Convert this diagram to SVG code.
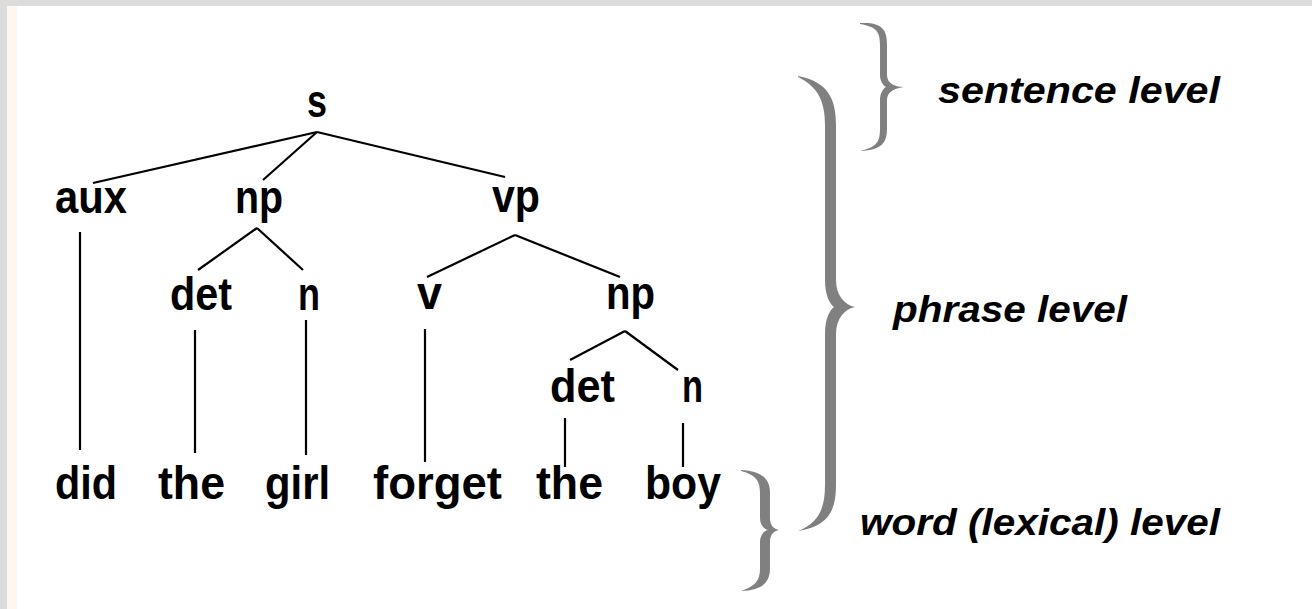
<svg xmlns="http://www.w3.org/2000/svg" width="1312" height="609" viewBox="0 0 1312 609">
<style>
.node{font-family:"Liberation Sans",Arial,sans-serif;font-weight:bold;font-size:47px;fill:#000}
.lvl{font-family:"Liberation Sans",Arial,sans-serif;font-weight:bold;font-style:italic;font-size:37px;fill:#000}
.edge{stroke:#000;stroke-width:2.2;fill:none;stroke-linecap:butt}
.brace{fill:#808080}
</style>
<rect x="0" y="0" width="1312" height="609" fill="#ffffff"/>
<rect x="7" y="6" width="10" height="603" fill="#fff5f1"/>
<rect x="0" y="0" width="1312" height="6" fill="#dcdcdc"/>
<rect x="0" y="0" width="7" height="609" fill="#dcdcdc"/>

<g id="connectors">
<line class="edge" x1="317" y1="132" x2="93" y2="183"/>
<line class="edge" x1="317" y1="132" x2="263" y2="180"/>
<line class="edge" x1="317" y1="132" x2="505" y2="177"/>
<line class="edge" x1="257" y1="228" x2="198" y2="270"/>
<line class="edge" x1="257" y1="228" x2="303" y2="270"/>
<line class="edge" x1="515" y1="235" x2="427" y2="277"/>
<line class="edge" x1="515" y1="235" x2="620" y2="277"/>
<line class="edge" x1="625" y1="331" x2="570" y2="360"/>
<line class="edge" x1="625" y1="331" x2="678" y2="370"/>
<line class="edge" x1="80" y1="232" x2="80" y2="450"/>
<line class="edge" x1="195" y1="330" x2="195" y2="453"/>
<line class="edge" x1="306" y1="320" x2="306" y2="455"/>
<line class="edge" x1="425" y1="329" x2="425" y2="462"/>
<line class="edge" x1="565" y1="418" x2="565" y2="467"/>
<line class="edge" x1="683" y1="423" x2="683" y2="467"/>
</g>

<g id="node-s"><text class="node" x="307" y="117" textLength="20" lengthAdjust="spacingAndGlyphs">s</text></g>
<g id="node-aux"><text class="node" x="55" y="213" textLength="72" lengthAdjust="spacingAndGlyphs">aux</text></g>
<g id="node-np1"><text class="node" x="235" y="213" textLength="48" lengthAdjust="spacingAndGlyphs">np</text></g>
<g id="node-vp"><text class="node" x="492" y="212" textLength="48" lengthAdjust="spacingAndGlyphs">vp</text></g>
<g id="node-det1"><text class="node" x="170" y="310" textLength="62" lengthAdjust="spacingAndGlyphs">det</text></g>
<g id="node-n1"><text class="node" x="298" y="310" textLength="22" lengthAdjust="spacingAndGlyphs">n</text></g>
<g id="node-v"><text class="node" x="417" y="309" textLength="25" lengthAdjust="spacingAndGlyphs">v</text></g>
<g id="node-np2"><text class="node" x="606" y="309" textLength="49" lengthAdjust="spacingAndGlyphs">np</text></g>
<g id="node-det2"><text class="node" x="550" y="402" textLength="65" lengthAdjust="spacingAndGlyphs">det</text></g>
<g id="node-n2"><text class="node" x="682" y="402" textLength="21" lengthAdjust="spacingAndGlyphs">n</text></g>
<g id="word-did"><text class="node" x="55" y="499" textLength="62" lengthAdjust="spacingAndGlyphs">did</text></g>
<g id="word-the1"><text class="node" x="158" y="499" textLength="67" lengthAdjust="spacingAndGlyphs">the</text></g>
<g id="word-girl"><text class="node" x="265" y="499" textLength="65" lengthAdjust="spacingAndGlyphs">girl</text></g>
<g id="word-forget"><text class="node" x="373" y="499" textLength="129" lengthAdjust="spacingAndGlyphs">forget</text></g>
<g id="word-the2"><text class="node" x="536" y="499" textLength="67" lengthAdjust="spacingAndGlyphs">the</text></g>
<g id="word-boy"><text class="node" x="645" y="499" textLength="76" lengthAdjust="spacingAndGlyphs">boy</text></g>

<g id="brace-sentence">
<path class="brace" d="M860,23 C883,22 887,30 887,45 L887,75 C887,84 896,87 904,87 C896,88 887,91 887,100 L887,128 C887,142 883,150 860,151 C877,147 880,142 880,128 L880,100 C880,92 884,88 886,87 C884,86 880,82 880,75 L880,45 C880,32 877,27 860,24 Z"/>
</g>
<g id="brace-phrase">
<path class="brace" d="M798,76 C829,82 836,100 836,125 L836,280 C836,296 845,305 855,307 C845,309 836,318 836,334 L836,485 C836,510 829,526 798,531 C819,523 825,508 825,485 L825,334 C825,318 830,310 834,307 C830,304 825,296 825,280 L825,125 C825,103 819,87 798,77 Z"/>
</g>
<g id="brace-word">
<path class="brace" d="M741,470 C763,471 770,480 770,493 L770,518 C770,526 774,529 779,530 C774,531 770,534 770,542 L770,568 C770,582 763,590 741,591 C756,586 760,580 760,568 L760,542 C760,535 764,531 768,530 C764,529 760,525 760,518 L760,493 C760,481 756,475 741,471 Z"/>
</g>

<g id="label-sentence"><text class="lvl" x="938" y="103" textLength="282" lengthAdjust="spacingAndGlyphs">sentence level</text></g>
<g id="label-phrase"><text class="lvl" x="893" y="322" textLength="234" lengthAdjust="spacingAndGlyphs">phrase level</text></g>
<g id="label-word"><text class="lvl" x="860" y="535" textLength="360" lengthAdjust="spacingAndGlyphs">word (lexical) level</text></g>
</svg>
